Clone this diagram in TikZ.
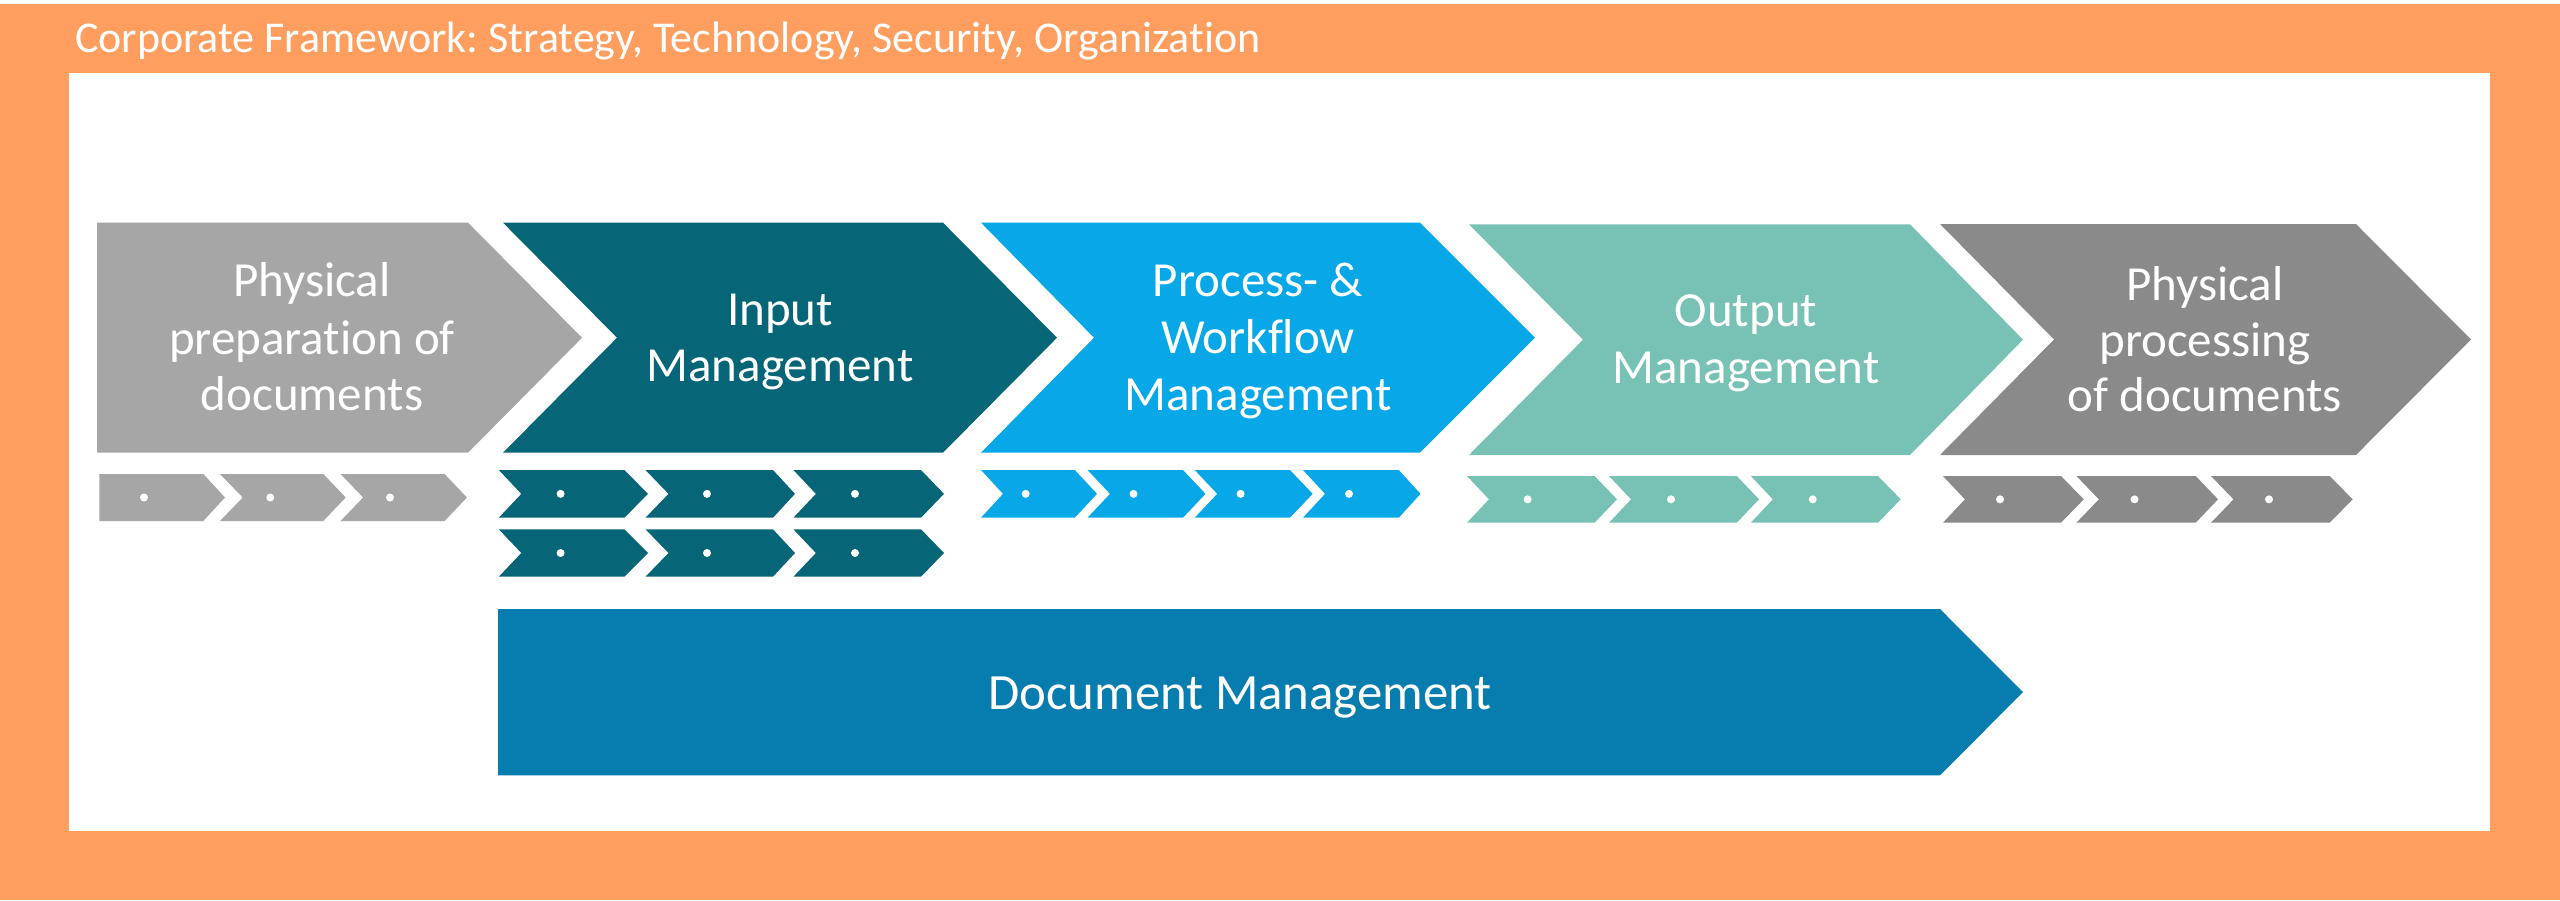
\documentclass[tikz,border=0pt]{standalone}
\usepackage{fontspec}
\setmainfont{Carlito}[Ligatures=NoCommon]
\frenchspacing
\definecolor{frameorange}{HTML}{FF9E5E}
\definecolor{grayA}{HTML}{A6A6A6}
\definecolor{tealdark}{HTML}{066678}
\definecolor{procblue}{HTML}{08A8E8}
\definecolor{outteal}{HTML}{78C2B5}
\definecolor{grayE}{HTML}{8A8A8A}
\definecolor{docblue}{HTML}{077DAF}
% #1 colour, #2 left, #3 notch depth, #4 shoulder, #5 tip, #6 top, #7 bottom
\newcommand\chevshape[7]{%
  \fill[#1] ({#2},{#6}) -- ({#4},{#6}) -- ({#5},{(#6+#7)/2}) -- ({#4},{#7}) -- ({#2},{#7})
    -- ({#2+#3},{(#6+#7)/2}) -- cycle;}
\newcommand\bulletdot[2]{\fill[white] ({#1},{#2}) circle[radius=4pt];}
\begin{document}
\begin{tikzpicture}[x=1pt,y=-1pt,
  lbl/.style={text=white,inner sep=0pt,anchor=base,font=\fontsize{49}{57}\selectfont},
  ttl/.style={text=white,inner sep=0pt,anchor=base west,font=\fontsize{44}{50}\selectfont}]
\useasboundingbox (0,0) rectangle (2560,900);
\fill[white] (0,0) rectangle (2560,900);
\fill[frameorange] (0,4) rectangle (2560,900);
\fill[white] (69,72.7) rectangle (2490,830.7);
\node[ttl] (title) at (75,52.3) {Corporate Framework: Strategy, Technology, Security, Organization};

% main chevrons
\chevshape{grayA}{97}{0}{468}{582}{222.7}{452.7}
\chevshape{tealdark}{503}{114}{943}{1057}{222.7}{452.7}
\chevshape{procblue}{981}{113}{1420}{1535}{222.7}{452.7}
\chevshape{outteal}{1469}{114}{1910}{2023}{224.3}{455}
\chevshape{grayE}{1940}{114}{2356}{2471}{224}{455}

% labels
\node[lbl] (a1) at (312,296.7) {Physical};
\node[lbl] (a2) at (312,354) {preparation of};
\node[lbl] (a3) at (312,410.7) {documents};
\node[lbl] (b1) at (780,325) {Input};
\node[lbl] (b2) at (780,381.7) {Management};
\node[lbl] (c1) at (1258,296.7) {Process- \&};
\node[lbl] (c2) at (1258,353.3) {Workflow};
\node[lbl] (c3) at (1258,410) {Management};
\node[lbl] (d1) at (1746,326.7) {Output};
\node[lbl] (d2) at (1746,383.3) {Management};
\node[lbl] (e1) at (2205,300) {Physical};
\node[lbl] (e2) at (2205,356.7) {processing};
\node[lbl] (e3) at (2205,411.7) {of documents};

% small chevrons, group A
\chevshape{grayA}{99.3}{0}{203.3}{225}{474}{521}
\chevshape{grayA}{220}{22.7}{323.3}{345.7}{474}{521}
\chevshape{grayA}{340.6}{22.5}{444.6}{466.9}{474}{521}
\bulletdot{144}{497.5}\bulletdot{270.3}{497.5}\bulletdot{390}{497.5}

% group B (two rows)
\foreach \t/\b in {470/517.7,529.3/576.7}{
  \chevshape{tealdark}{498.8}{22.5}{624.4}{648}{\t}{\b}
  \chevshape{tealdark}{645.5}{23}{773}{795}{\t}{\b}
  \chevshape{tealdark}{793.4}{22.5}{921}{944}{\t}{\b}
  \bulletdot{560.6}{(\t+\b)/2}\bulletdot{707}{(\t+\b)/2}\bulletdot{855}{(\t+\b)/2}
}

% group C
\chevshape{procblue}{981}{22}{1074.8}{1097}{470}{517.7}
\chevshape{procblue}{1087.5}{22.5}{1183}{1205.5}{470}{517.7}
\chevshape{procblue}{1194.7}{22.5}{1290}{1312.7}{470}{517.7}
\chevshape{procblue}{1303}{22}{1398.8}{1420.5}{470}{517.7}
\bulletdot{1025.7}{493.85}\bulletdot{1133.5}{493.85}\bulletdot{1240.6}{493.85}\bulletdot{1349}{493.85}

% group D
\chevshape{outteal}{1467}{22}{1594.6}{1617}{476}{522.7}
\chevshape{outteal}{1609}{22}{1736.8}{1759}{476}{522.7}
\chevshape{outteal}{1750.8}{22}{1878}{1900.7}{476}{522.7}
\bulletdot{1527.6}{499.35}\bulletdot{1671}{499.35}\bulletdot{1812.7}{499.35}

% group E
\chevshape{grayE}{1942.9}{22}{2061}{2083.8}{476}{522.7}
\chevshape{grayE}{2076.4}{22.5}{2195.7}{2218}{476}{522.7}
\chevshape{grayE}{2211}{22.5}{2329.7}{2352.7}{476}{522.7}
\bulletdot{2000}{499.35}\bulletdot{2134.5}{499.35}\bulletdot{2269}{499.35}

% document management
\chevshape{docblue}{498}{0}{1940}{2023}{609}{775.3}
\node[lbl,font=\fontsize{50.8}{60}\selectfont] (dm) at (1240,709) {Document Management};
\end{tikzpicture}
\end{document}
